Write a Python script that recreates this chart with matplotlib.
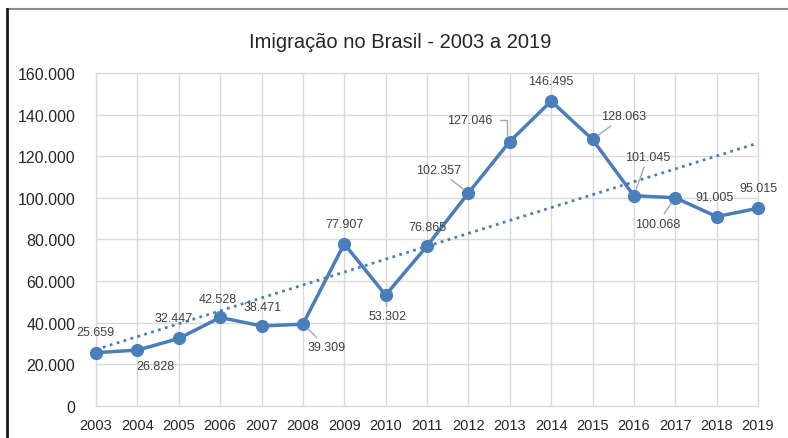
#!/usr/bin/env python3

#imports
import matplotlib
matplotlib.use("Agg")
import matplotlib.pyplot as plt
import numpy as np


#data
years = [2003, 2004, 2005, 2006, 2007, 2008, 2009, 2010, 2011,
         2012, 2013, 2014, 2015, 2016, 2017, 2018, 2019]
immigrants = [25659, 26828, 32447, 42528, 38471, 39309, 77907, 53302, 76865,
              102357, 127046, 146495, 128063, 101045, 100068, 91005, 95015]
y_ticks = [0, 20000, 40000, 60000, 80000, 100000, 120000, 140000, 160000]
title = "Imigração no Brasil - 2003 a 2019"

#label layout (offset in points, leader line style or None)
label_offsets = [(-0.7, 15), (13, -11.5), (-3.6, 14.4), (-1.4, 13), (0.7, 13.7),
                 (17.3, -16.6), (0, 14.4), (1.4, -15), (0, 13.7), (-21.6, 16.6),
                 (-28.8, 15.8), (0, 14.4), (22.3, 16.6), (10, 28), (-13, -18.7),
                 (-1.4, 14.4), (0, 14.4)]
leaders = [None, None, None, None, None, "line", None, "line", None, "line",
           "elbow", None, "line", "line", "line", None, None]

#functions

def br_format(v):
    return f"{int(v):,}".replace(",", ".")


def main():
    plt.rcParams['font.family'] = ['Liberation Sans', 'DejaVu Sans']
    blue = "#4a7ebb"
    grid_col = "#d9d9d9"
    leader_col = "#a6a6a6"

    fig = plt.figure(figsize=(7.88, 4.39), dpi=100)
    ax = fig.add_axes([96 / 788, 32 / 439, (758 - 96) / 788, (407 - 74) / 439])

    x = np.array(years)
    y = np.array(immigrants)

    # linear trendline
    coef = np.polyfit(x, y, 1)
    ax.plot(x, np.polyval(coef, x), linestyle=(0, (1, 1.6)), color=blue, lw=2, zorder=2)

    ax.plot(x, y, color=blue, lw=2.5, marker="o", markersize=8.5, zorder=3, clip_on=False)

    ax.set_xlim(2003, 2019)
    ax.set_ylim(0, 160000)

    for i in range(len(years)):
        dx, dy = label_offsets[i]
        props = None
        if leaders[i] == "line":
            props = dict(arrowstyle="-", color=leader_col, lw=1,
                         shrinkA=1, shrinkB=5)
        ax.annotate(br_format(immigrants[i]), xy=(years[i], immigrants[i]),
                    xytext=(dx, dy), textcoords="offset points",
                    ha="center", va="center", fontsize=9, color="#404040",
                    arrowprops=props, zorder=4)
        if leaders[i] == "elbow":
            # short dash right of the label, then down towards the point
            px, py = ax.transData.transform((years[i], immigrants[i]))
            k = fig.dpi / 72
            xs = [px + (dx + 22) * k, px - 2 * k, px - 2 * k]
            ys = [py + dy * k, py + dy * k, py + 5 * k]
            fx, fy = fig.transFigure.inverted().transform(np.column_stack([xs, ys])).T
            fig.add_artist(plt.Line2D(fx, fy, color=leader_col, lw=1,
                                      transform=fig.transFigure, zorder=4))

    ax.set_xticks(years)
    ax.set_xticklabels([str(v) for v in years], fontsize=10.5, color="#262626")
    ax.set_yticks(y_ticks)
    ax.set_yticklabels([br_format(v) for v in y_ticks], fontsize=11.5, color="#262626")
    ax.tick_params(length=0)
    ax.tick_params(axis="x", pad=9)
    ax.tick_params(axis="y", pad=15)
    ax.grid(True, color=grid_col, lw=1)
    ax.set_axisbelow(True)
    for s in ax.spines.values():
        s.set_color(grid_col)
        s.set_linewidth(1)

    fig.text(400 / 788, 1 - 42 / 439, title, ha="center", va="center",
             fontsize=14.5, color="#262626")

    # outer frame
    fig.add_artist(plt.Line2D([7 / 788, 1], [1 - 10 / 439, 1 - 10 / 439],
                              color="#8c8c8c", lw=1.5, transform=fig.transFigure))
    fig.add_artist(plt.Line2D([7 / 788, 7 / 788], [0, 1 - 10 / 439],
                              color="#1a1a1a", lw=2, transform=fig.transFigure))

    fig.savefig("out.png", dpi=100)


#main call
if __name__ == "__main__":
    main()
